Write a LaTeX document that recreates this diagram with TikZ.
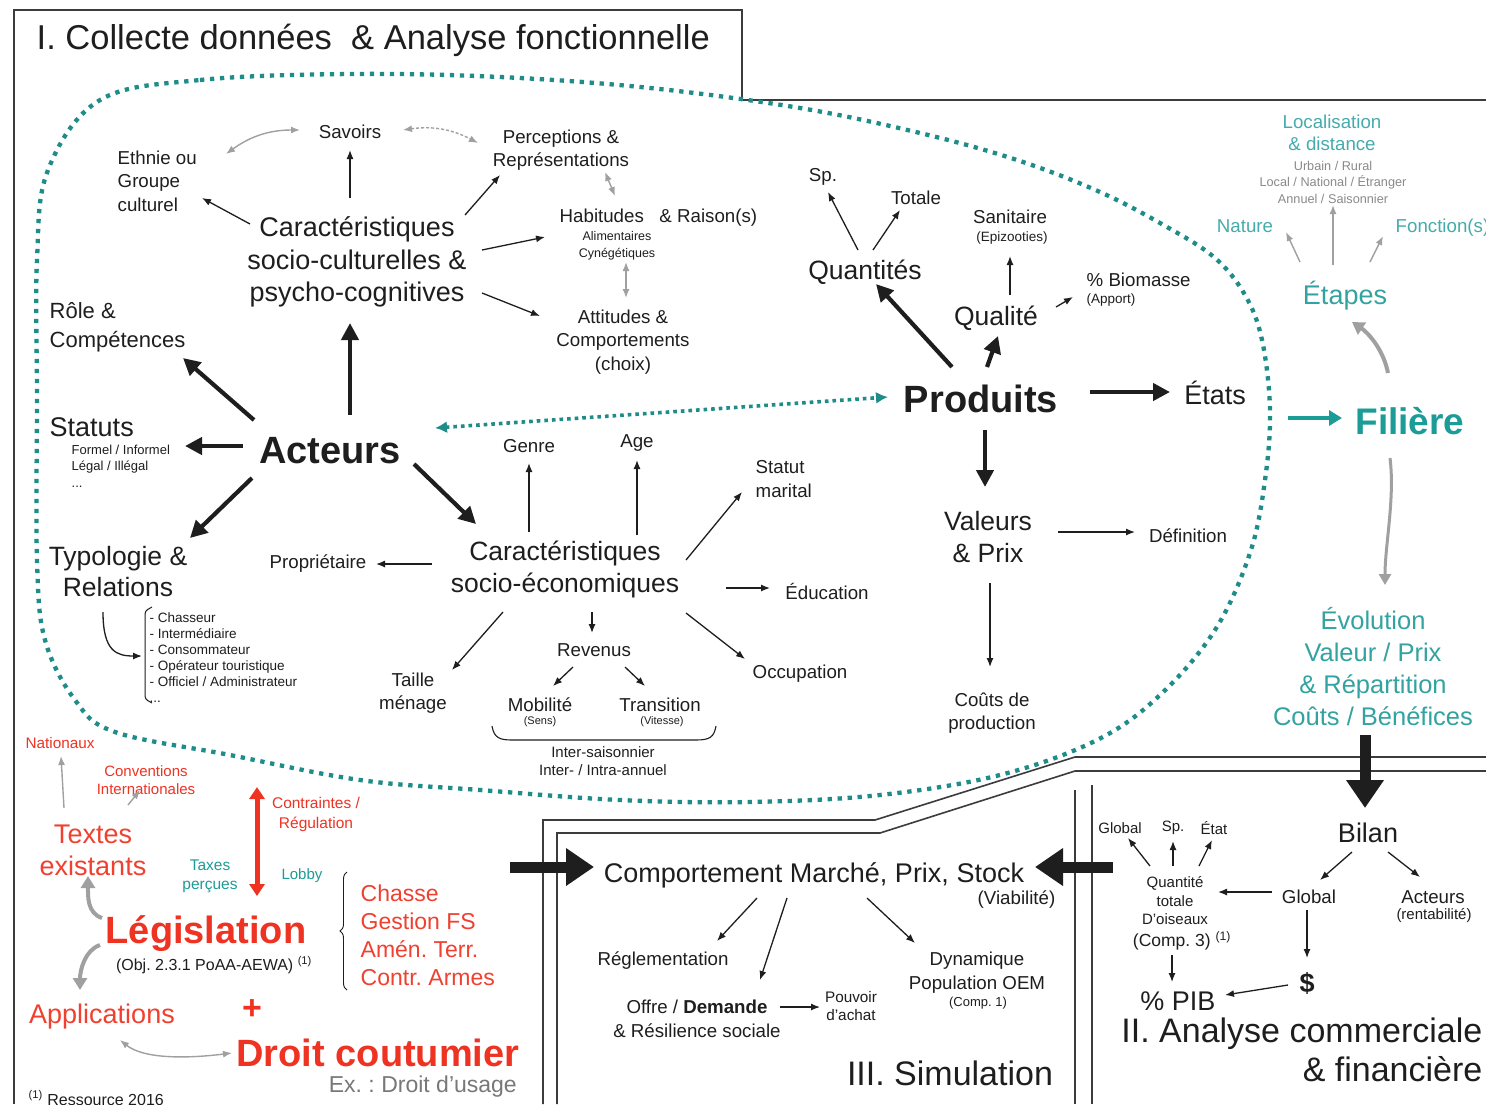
\documentclass[tikz,border=0pt]{standalone}
\usepackage{fontspec}
\setmainfont{Liberation Sans}
\frenchspacing
\usetikzlibrary{arrows.meta,decorations.pathreplacing,calc}
\definecolor{ink}{HTML}{1E1E1E}
\definecolor{tealA}{HTML}{1C9C97}
\definecolor{tealB}{HTML}{33A3A1}
\definecolor{tealC}{HTML}{45ABAD}
\definecolor{dotteal}{HTML}{1E8C88}
\definecolor{redA}{HTML}{EF3323}
\definecolor{redB}{HTML}{F0402F}
\definecolor{grA}{HTML}{A0A0A0}
\definecolor{grT}{HTML}{8A8A8A}
\definecolor{grX}{HTML}{787878}
\definecolor{frm}{HTML}{3C3C3C}
\newcommand\fsz[2]{\fontsize{#1}{#2}\selectfont}
\tikzset{
  fS/.style={font=\fsz{18.7}{23.5}},
  fL/.style={font=\fsz{27}{32.5}},
  fXL/.style={font=\fsz{38}{44}\bfseries},
  ar/.style={draw=ink, line width=1.3pt, -{Latex[length=9pt,width=7pt]}},
  arB/.style={draw=ink, line width=4.2pt, -{Triangle[length=17pt,width=17pt]}},
  arH/.style={draw=ink, line width=11pt, -{Triangle[length=28pt,width=36pt]}},
  arG/.style={draw=grA, line width=1.4pt, {Latex[length=9pt,width=7pt]}-{Latex[length=9pt,width=7pt]}},
  arGs/.style={draw=grA, line width=1.4pt, -{Latex[length=9pt,width=7pt]}},
  arGT/.style={draw=grA, line width=4pt, -{Triangle[length=12pt,width=14pt]}},
  frame/.style={draw=frm, line width=1.6pt},
}
\begin{document}
\begin{tikzpicture}[x=1pt,y=-1pt, every node/.style={inner sep=1.5pt, text=ink, align=center}]
\useasboundingbox[fill=white] (0,0) rectangle (1486,1104);

% ---------- frames
\draw[frame] (14,1104) -- (14,10) -- (742,10) -- (742,100) -- (1486,100);
\draw[frame] (543,1104) -- (543,820) -- (875,820) -- (1075,757) -- (1486,757);
\draw[frame] (557,1104) -- (557,833) -- (880,833) -- (1075,771) -- (1486,771);
\draw[frame] (1075,790) -- (1075,1104);
\draw[frame] (1092,785) -- (1092,1104);

% ---------- dotted region
\draw[dotteal, line width=4.3pt, dash pattern=on 4.3pt off 5.7pt]
 plot[smooth cycle, tension=0.6] coordinates {
 (100,100) (200,80) (350,74) (500,77) (650,88) (800,108) (920,133) (1017,160)
 (1100,192) (1167,227) (1215,258) (1245,295) (1262,340) (1270,410) (1265,480)
 (1250,553) (1215,630) (1160,695) (1097,740) (1000,775) (880,795) (750,802)
 (620,800) (480,790) (360,780) (230,755) (115,732) (75,700) (45,640) (37,560)
 (37,400) (37,260) (48,170)};

% ---------- title
\node[anchor=west, font=\fsz{34.5}{40}] (title) at (35,40) {I. Collecte données\ \ \& Analyse fonctionnelle};

% ---------- socio-cultural cluster
\node[fS] (sav) at (350,132) {Savoirs};
\node[fS, align=left, anchor=west] (eth) at (116,181) {Ethnie ou\\Groupe\\culturel};
\node[fS] (perc) at (561,150) {Perceptions \&\\Représentations};
\node[fL] (csc) at (357,262) {Caractéristiques\\socio-culturelles \&\\psycho-cognitives};
\node[fS, anchor=west] (hab) at (558,218) {Habitudes\ \ \ \& Raison(s)};
\node[font=\fsz{12.5}{17}] (alim) at (617,246) {Alimentaires\\Cynégétiques};
\node[fS] (att) at (623,342) {Attitudes \&\\Comportements\\(choix)};

% ---------- left column
\node[font=\fsz{22}{29}, align=left, anchor=west] (role) at (48,327) {Rôle \&\\Compétences};
\node[fL, anchor=west] (stat) at (48,427) {Statuts};
\node[font=\fsz{13}{16.5}, align=left, anchor=west] (statd) at (70,466) {Formel / Informel\\Légal / Illégal\\...};
\node[fXL] (act) at (330,451) {Acteurs};
\node[font=\fsz{26.5}{31}] (typo) at (118,572) {Typologie \&\\Relations};
\node[font=\fsz{13.5}{16}, align=left, anchor=west] (list) at (148,658) {- Chasseur\\- Intermédiaire\\- Consommateur\\- Opérateur touristique\\- Officiel / Administrateur\\...};
\draw[ink, line width=1pt, rounded corners=3pt] (152,607) -- (145,611) -- (145,699) -- (152,703);

% ---------- socio-economic cluster
\node[fS] (prop) at (318,564) {Propriétaire};
\node[font=\fsz{26.5}{32}] (cse) at (565,569) {Caractéristiques\\socio-économiques};
\node[fS] (gen) at (529,446) {Genre};
\node[fS] (age) at (637,443) {Age};
\node[fS, align=left, anchor=west] (mar) at (754,479) {Statut\\marital};
\node[fS] (edu) at (827,591) {Éducation};
\node[fS] (occ) at (800,674) {Occupation};
\node[fS] (rev) at (594,650) {Revenus};
\node[fS] (mob) at (540,705) {Mobilité};
\node[font=\fsz{11}{13}] (sens) at (540,722) {(Sens)};
\node[fS] (tra) at (660,705) {Transition};
\node[font=\fsz{11}{13}] (vit) at (662,722) {(Vitesse)};
\node[font=\fsz{15}{18.5}] (inter) at (603,761) {Inter-saisonnier\\Inter- / Intra-annuel};
\node[fS] (tai) at (413,693) {Taille\\ménage};
\draw[ink, line width=1.1pt] (492,726) .. controls (494,738) and (500,740) .. (512,740) -- (696,740) .. controls (710,740) and (714,737) .. (716,726);

% ---------- produits cluster
\node[fS] (sp) at (823,177) {Sp.};
\node[fS] (tot) at (916,198) {Totale};
\node[font=\fsz{26.5}{32}] (qua) at (865,272) {Quantités};
\node[fS] (san) at (1010,217) {Sanitaire};
\node[font=\fsz{13.5}{16}] (epi) at (1012,238) {(Epizooties)};
\node[font=\fsz{26.5}{32}] (qual) at (996,318) {Qualité};
\node[fS, anchor=west] (bio) at (1085,280) {\% Biomasse};
\node[font=\fsz{13.5}{16}, anchor=west] (app) at (1085,300) {(Apport)};
\node[fXL] (prod) at (981,399) {Produits};
\node[fL] (eta) at (1215,393) {États};
\node[font=\fsz{26.5}{32}] (val) at (988,537) {Valeurs\\\& Prix};
\node[fS] (def) at (1188,536) {Définition};
\node[fS] (cout) at (992,713) {Coûts de\\production};

% ---------- filiere column
\node[text=tealC, font=\fsz{18.7}{22}] (loc) at (1332,133) {Localisation\\\& distance};
\node[font=\fsz{12.7}{16.5}, text=grT] (locd) at (1333,182) {Urbain / Rural\\Local / National / Étranger\\Annuel / Saisonnier};
\node[fS, text=tealC] (nat) at (1245,226) {Nature};
\node[fS, text=tealC, anchor=west] (fon) at (1394,228) {Fonction(s)};
\node[fL, text=tealB] (etp) at (1345,296) {Étapes};
\node[font=\fsz{37}{44}\bfseries, text=tealA] (fil) at (1410,421) {Filière};
\node[font=\fsz{25.5}{32}, text=tealB] (evo) at (1373,667) {Évolution\\Valeur / Prix\\\& Répartition\\Coûts / Bénéfices};

% ---------- II
\node[fL] (bil) at (1368,833) {Bilan};
\node[fS] (glo) at (1309,897) {Global};
\node[fS] (actb) at (1433,897) {Acteurs};
\node[font=\fsz{15}{18}] (rent) at (1434,916) {(rentabilité)};
\node[font=\fsz{15}{18.5}] (qt) at (1175,901) {Quantité\\totale\\D'oiseaux};
\node[font=\fsz{17.5}{20}] (comp3) at (1182,941) {(Comp. 3) \textsuperscript{(1)}};
\node[font=\fsz{15}{18}] (gl2) at (1120,828) {Global};
\node[font=\fsz{15}{18}] (sp2) at (1173,828) {Sp.};
\node[font=\fsz{15}{18}] (et2) at (1214,828) {État};
\node[font=\fsz{27}{32}\bfseries] (dol) at (1307,983) {\$};
\node[font=\fsz{27}{32}] (pib) at (1178,1001) {\% PIB};
\node[font=\fsz{34}{39}, align=right, anchor=east] (ii) at (1484,1050) {II. Analyse commerciale\\\& financière};

% ---------- III
\node[fL] (cmp) at (814,875) {Comportement Marché, Prix, Stock};
\node[fS, anchor=east] (via) at (1057,900) {(Viabilité)};
\node[fS] (reg) at (663,961) {Réglementation};
\node[fS] (off) at (697,1019) {Offre / \textbf{Demande}\\\& Résilience sociale};
\node[font=\fsz{15.3}{18}] (pou) at (851,1006) {Pouvoir\\d'achat};
\node[font=\fsz{18.7}{24}] (dyn) at (977,973) {Dynamique\\Population OEM};
\node[font=\fsz{13}{15}] (c1) at (978,1003) {(Comp. 1)};
\node[font=\fsz{34}{39}] (sim) at (950,1073) {III. Simulation};

% ---------- legislation
\node[font=\fsz{15.3}{18}, text=redA] (nat2) at (60,743) {Nationaux};
\node[font=\fsz{15}{18}, text=redA] (conv) at (146,780) {Conventions\\Internationales};
\node[font=\fsz{27}{32}, text=redB] (tex) at (93,850) {Textes\\existants};
\node[font=\fsz{15.5}{19}, text=tealA] (tax) at (210,876) {Taxes\\perçues};
\node[font=\fsz{15}{18}, text=tealA] (lob) at (302,876) {Lobby};
\node[font=\fsz{15.5}{20}, text=redA] (cont) at (316,814) {Contraintes /\\Régulation};
\node[fXL, text=redA] (leg) at (206,934) {Législation};
\node[font=\fsz{16}{19}] (obj) at (214,965) {(Obj. 2.3.1 PoAA-AEWA) \textsuperscript{(1)}};
\node[font=\fsz{23}{28}, text=redB, align=left, anchor=west] (cha) at (359,935) {Chasse\\Gestion FS\\Amén. Terr.\\Contr. Armes};
\draw[ink, line width=0.9pt, decorate, decoration={brace, amplitude=7pt}] (347,990) -- (347,872);
\node[font=\fsz{27}{32}, text=redB] (app2) at (102,1017) {Applications};
\node[font=\fsz{34}{40}\bfseries, text=redA] (plus) at (252,1010) {+};
\node[fXL, text=redA, inner sep=0pt] (dro) at (378,1053) {Droit coutumier};
\node[font=\fsz{23}{28}, text=grX, anchor=east, inner sep=0pt] (ex) at (517,1087) {Ex. : Droit d'usage};
\node[font=\fsz{16}{19}, anchor=west] (res) at (27,1098) {\textsuperscript{(1)} Ressource 2016};

% ---------- free coordinates
\coordinate (fstart) at (1288,418);
\coordinate (lbig) at (510,867);
\coordinate (rbig) at (1113,867);
\coordinate (ra) at (257,787);
\coordinate (rb) at (257,896);

% ---------- connectors: socio-cultural
\draw[ar] ($(csc)+(-7,-64)$) -- ($(sav)+(0,18)$);
\draw[ar] ($(csc)+(-107,-38)$) -- ($(eth.west)+(86,17)$);
\draw[ar] ($(csc)+(108,-47)$) -- ($(perc)+(-61,25)$);
\draw[ar] ($(csc)+(125,-12)$) -- ($(hab.west)+(-13,19)$);
\draw[ar] ($(csc)+(125,31)$) -- ($(att)+(-83,-26)$);
\draw[arG] ($(eth.west)+(110,-27)$) to[bend left=18] ($(sav)+(-50,-2)$);
\draw[arG, densely dashed] ($(sav)+(53,-2)$) to[bend left=18] ($(perc)+(-83,-7)$);
\draw[arG] ($(perc)+(44,22)$) -- ($(hab.west)+(57,-22)$);
\draw[arG] ($(alim)+(9,16)$) -- ($(att)+(3,-44)$);

% ---------- connectors: acteurs
\draw[arB] ($(act)+(20,-36)$) -- ($(csc)+(-7,61)$);
\draw[arB] ($(act)+(-76,-31)$) -- ($(role.west)+(135,31)$);
\draw[arB] ($(act)+(-87,-5)$) -- ($(stat.west)+(137,19)$);
\draw[arB] ($(act)+(-78,27)$) -- ($(typo)+(72,-34)$);
\draw[arB] ($(act)+(84,13)$) -- ($(cse)+(-89,-45)$);
\draw[dotteal, line width=3.6pt, dash pattern=on 3.6pt off 4pt, {Latex[length=12pt,width=12pt]}-{Latex[length=12pt,width=12pt]}] ($(act)+(105,-23)$) -- ($(prod)+(-93,-2)$);
\draw[ar] ($(typo)+(-15,40)$) .. controls +(0,40) and +(-25,0) .. ($(list.west)+(-6,-2)$);

% ---------- connectors: socio-eco
\draw[ar] ($(cse)+(-36,-37)$) -- ($(gen)+(0,17)$);
\draw[ar] ($(cse)+(72,-34)$) -- ($(age)+(0,17)$);
\draw[ar] ($(cse)+(121,-9)$) -- ($(mar.west)+(-12,13)$);
\draw[ar] ($(cse)+(-133,-5)$) -- ($(prop)+(58,0)$);
\draw[ar] ($(cse)+(161,19)$) -- ($(edu)+(-57,-3)$);
\draw[ar] ($(cse)+(-62,43)$) -- ($(tai)+(39,-23)$);
\draw[ar] ($(cse)+(27,43)$) -- ($(rev)+(-2,-17)$);
\draw[ar] ($(cse)+(121,44)$) -- ($(occ)+(-55,-15)$);
\draw[ar] ($(rev)+(-21,17)$) -- ($(mob)+(13,-19)$);
\draw[ar] ($(rev)+(31,17)$) -- ($(tra)+(-15,-19)$);

% ---------- connectors: produits
\draw[arB] ($(prod)+(-29,-32)$) -- ($(qua)+(11,12)$);
\draw[arB] ($(prod)+(6,-32)$) -- ($(qual)+(2,18)$);
\draw[arB] ($(prod)+(109,-7)$) -- ($(eta)+(-45,-1)$);
\draw[arB] ($(prod)+(4,31)$) -- ($(val)+(-3,-50)$);
\draw[ar] ($(qua)+(-7,-22)$) -- ($(sp)+(5,15)$);
\draw[ar] ($(qua)+(8,-22)$) -- ($(tot)+(-16,12)$);
\draw[ar] ($(qual)+(14,-23)$) -- ($(epi)+(-2,18)$);
\draw[ar] ($(qual)+(60,-11)$) -- ($(app.west)+(-12,-3)$);
\draw[ar] ($(val)+(70,-5)$) -- ($(def)+(-53,-4)$);
\draw[ar] ($(val)+(2,46)$) -- ($(cout)+(-2,-46)$);

% ---------- connectors: filiere
\draw[arGs] ($(etp)+(-12,-31)$) -- ($(locd)+(0,23)$);
\draw[arGs] ($(etp)+(-45,-34)$) -- ($(nat)+(41,6)$);
\draw[arGs] ($(etp)+(25,-34)$) -- ($(fon.west)+(-11,8)$);
\draw[tealA, line width=4.5pt, -{Triangle[length=13pt,width=15pt]}] (fstart) -- ($(fil)+(-68,-3)$);
\draw[arGT] ($(fil)+(-22,-48)$) .. controls +(-5,-25) and +(15,10) .. ($(etp)+(7,26)$);
\draw[grA, line width=3pt, -{Triangle[length=11pt,width=12pt]}] ($(fil)+(-20,37)$) .. controls +(5,40) and +(0,-40) .. ($(evo)+(12,-82)$);
\draw[arH] ($(evo)+(-8,68)$) -- ($(bil)+(-3,-25)$);

% ---------- connectors: II
\draw[ar] ($(bil)+(-16,19)$) -- ($(glo)+(11,-17)$);
\draw[ar] ($(bil)+(20,19)$) -- ($(actb)+(-13,-20)$);
\draw[ar] ($(glo)+(-37,-5)$) -- ($(qt)+(43,-9)$);
\draw[ar] ($(glo)+(-2,13)$) -- ($(dol)+(0,-25)$);
\draw[ar] ($(dol)+(-19,2)$) -- ($(pib)+(47,-6)$);
\draw[ar] ($(comp3)+(-10,14)$) -- ($(pib)+(-6,-19)$);
\draw[ar] ($(qt)+(-25,-35)$) -- ($(gl2)+(8,10)$);
\draw[ar] ($(qt)+(-2,-35)$) -- ($(sp2)+(0,13)$);
\draw[ar] ($(qt)+(24,-35)$) -- ($(et2)+(-2,12)$);

% ---------- connectors: III
\draw[ar] ($(cmp)+(-57,23)$) -- ($(reg)+(54,-20)$);
\draw[ar] ($(cmp)+(-27,23)$) -- ($(off)+(63,-39)$);
\draw[ar] ($(cmp)+(53,23)$) -- ($(dyn)+(-62,-30)$);
\draw[ar] ($(off)+(83,-12)$) -- ($(pou)+(-31,1)$);
\draw[arH] (lbig) -- ($(cmp)+(-220,-8)$);
\draw[arH] (rbig) -- ($(cmp)+(221,-8)$);

% ---------- connectors: legislation
\draw[arGs] ($(tex)+(-29,-42)$) -- ($(nat2)+(1,13)$);
\draw[arGs] ($(tex)+(35,-45)$) -- ($(conv)+(-6,10)$);
\draw[arGT] ($(leg)+(-104,-16)$) .. controls +(-15,-5) and +(0,20) .. ($(tex)+(-5,26)$);
\draw[arGT] ($(leg)+(-106,11)$) .. controls +(-15,5) and +(0,-20) .. ($(app2)+(-22,-27)$);
\draw[arG] ($(app2)+(18,23)$) .. controls +(25,20) and +(-40,5) .. ($(dro)+(-146,0)$);
\draw[redA, line width=5pt, {Triangle[length=12pt,width=15pt]}-{Triangle[length=12pt,width=15pt]}] (ra) -- (rb);
\end{tikzpicture}
\end{document}
